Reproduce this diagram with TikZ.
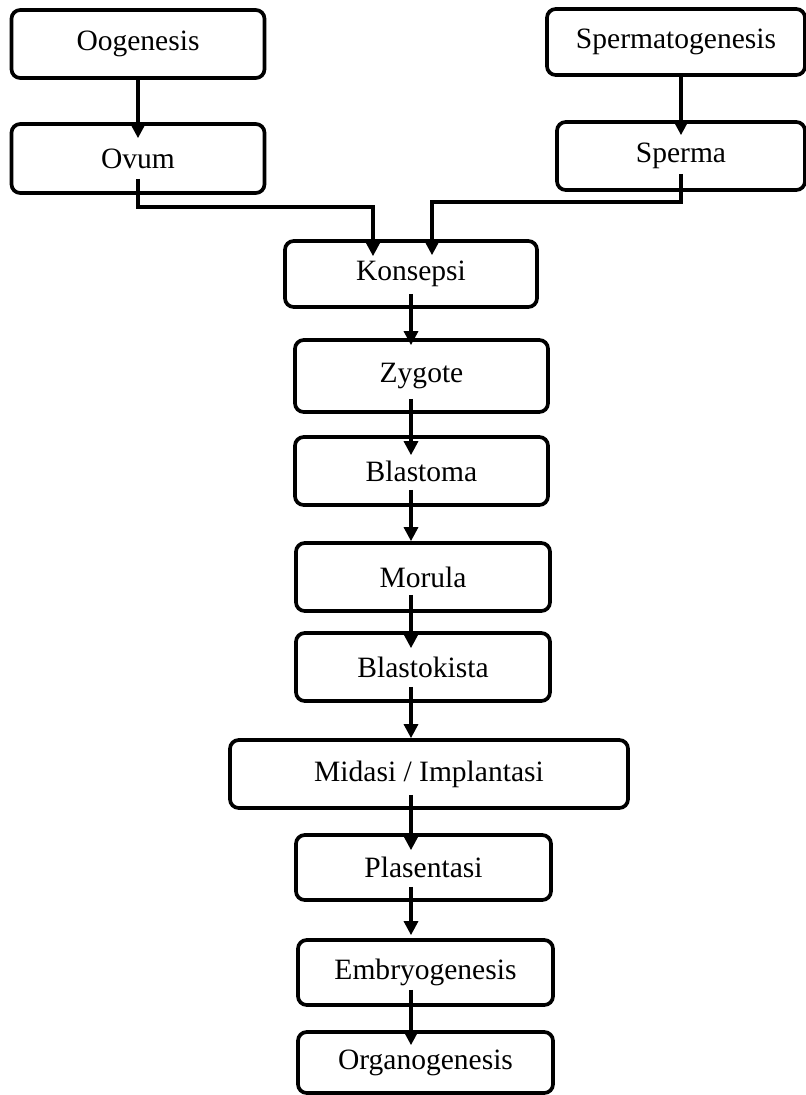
\documentclass[tikz,border=0pt]{standalone}
\usepackage{fontspec}
\setmainfont{Liberation Serif}
\usepackage{tikz}
\usetikzlibrary{arrows.meta,positioning,calc}
\tikzset{
  stagebox/.style={draw=black, fill=white, line width=2.1pt, rounded corners=5pt,
        minimum width=5.06cm, minimum height=1.36cm, align=center,
        inner sep=2pt, font=\fontsize{16.8}{20}\selectfont},
  flowarr/.style={-{Triangle[length=2.8mm,width=2.8mm]}, line width=1.8pt, draw=black}
}

\begin{document}
\begin{tikzpicture}
\useasboundingbox[fill=white] (0,0) rectangle (16.12,-21.9);

% gametes
\node[stagebox] (oogen) at (2.76,-0.88) {Oogenesis};
\node[stagebox, minimum height=1.38cm] (ovum) at (2.76,-3.17) {Ovum};
\node[stagebox, minimum width=5.16cm, minimum height=1.32cm] (spermgen) at (13.52,-0.84) {Spermatogenesis};
\node[stagebox, minimum width=4.96cm] (sperma) at (13.62,-3.12) {Sperma};

% development
\node[stagebox, minimum width=5.04cm, minimum height=1.32cm] (konsepsi) at (8.22,-5.48) {Konsepsi};
\node[stagebox, minimum height=1.44cm] (zygote) at (8.43,-7.52) {Zygote};
\node[stagebox] (blastoma) at (8.43,-9.42) {Blastoma};
\node[stagebox, minimum width=5.08cm] (morula) at (8.46,-11.54) {Morula};
\node[stagebox, minimum width=5.08cm] (blastokista) at (8.46,-13.34) {Blastokista};
\node[stagebox, minimum width=7.96cm] (midasi) at (8.58,-15.48) {Midasi / Implantasi};
\node[stagebox, minimum width=5.1cm, minimum height=1.3cm] (plasentasi) at (8.47,-17.35) {Plasentasi};
\node[stagebox, minimum width=5.1cm, minimum height=1.3cm] (embryo) at (8.51,-19.45) {Embryogenesis};
\node[stagebox, minimum width=5.1cm, minimum height=1.22cm] (organo) at (8.51,-21.25) {Organogenesis};

\draw[flowarr, shorten >=-0.32cm] (oogen.south) -- (ovum.north);
\draw[flowarr, shorten >=-0.30cm] (spermgen.south -| sperma) -- (sperma.north);

\draw[flowarr] ([yshift=0.32cm]ovum.south) |- (7.46,-4.14) -- ([yshift=-0.34cm]konsepsi.north -| 7.46,0);
\draw[flowarr] ([yshift=0.36cm]sperma.south) |- (8.64,-4.04) -- ([yshift=-0.32cm]konsepsi.north -| 8.64,0);

\draw[flowarr] ([yshift=0.30cm]konsepsi.south) -- ([yshift=-0.14cm]zygote.north -| konsepsi);
\draw[flowarr] ([yshift=0.30cm]zygote.south -| konsepsi) -- ([yshift=-0.40cm]blastoma.north -| konsepsi);
\draw[flowarr] ([yshift=0.34cm]blastoma.south -| konsepsi) -- (morula.north -| konsepsi);
\draw[flowarr] ([yshift=0.36cm]morula.south -| konsepsi) -- ([yshift=-0.34cm]blastokista.north -| konsepsi);
\draw[flowarr] ([yshift=0.32cm]blastokista.south -| konsepsi) -- (midasi.north -| konsepsi);
\draw[flowarr] ([yshift=0.30cm]midasi.south -| konsepsi) -- ([yshift=-0.34cm]plasentasi.north -| konsepsi);
\draw[flowarr] ([yshift=0.30cm]plasentasi.south -| konsepsi) -- ([yshift=0.06cm]embryo.north -| konsepsi);
\draw[flowarr] ([yshift=0.34cm]embryo.south -| konsepsi) -- ([yshift=-0.30cm]organo.north -| konsepsi);
\end{tikzpicture}
\end{document}
